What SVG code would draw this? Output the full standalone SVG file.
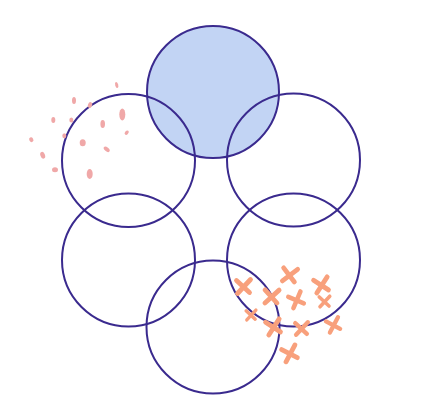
<svg xmlns="http://www.w3.org/2000/svg" xmlns:xlink="http://www.w3.org/1999/xlink" width="427" height="409" viewBox="0 0 427 409">
<style>
.ring{fill:none;stroke:#3a2a8e;stroke-width:2}
.blob{fill:#f0a8a8}
.x{fill:none;stroke:#f8a07c;stroke-width:4.8;stroke-linecap:round}
</style>
<defs>
<path id="cross" d="M-7,-6 L6,6 M-6,7 L7,-7"/>
</defs>
<rect width="427" height="409" fill="#fff"/>
<g id="fill-top"><circle cx="213" cy="92" r="66" fill="#c2d4f4"/></g>
<g id="c-top"><circle class="ring" cx="213" cy="92" r="66"/></g>
<g id="c-left-top"><circle class="ring" cx="128.5" cy="160.5" r="66.5"/></g>
<g id="c-right-top"><circle class="ring" cx="293.5" cy="160" r="66.5"/></g>
<g id="c-left-bottom"><circle class="ring" cx="128.5" cy="260" r="66.5"/></g>
<g id="c-right-bottom"><circle class="ring" cx="293.5" cy="260" r="66.5"/></g>
<g id="c-bottom"><circle class="ring" cx="213" cy="327" r="66.5"/></g>
<g id="blobs">
<ellipse class="blob" cx="116.7" cy="85" rx="1.5" ry="3" transform="rotate(-15 116.7 85)"/>
<ellipse class="blob" cx="74" cy="100.5" rx="2" ry="3.5"/>
<ellipse class="blob" cx="90" cy="105" rx="2" ry="3" transform="rotate(20 90 105)"/>
<ellipse class="blob" cx="122.3" cy="114.5" rx="3" ry="6"/>
<ellipse class="blob" cx="53.3" cy="120" rx="2" ry="3"/>
<ellipse class="blob" cx="71.3" cy="120" rx="2" ry="2.5"/>
<ellipse class="blob" cx="102.7" cy="124" rx="2.3" ry="4"/>
<ellipse class="blob" cx="126.7" cy="132.7" rx="1.7" ry="2.5" transform="rotate(40 126.7 132.7)"/>
<ellipse class="blob" cx="64.3" cy="135.7" rx="2" ry="2.5"/>
<ellipse class="blob" cx="31.3" cy="139.7" rx="2" ry="2.5" transform="rotate(-30 31.3 139.7)"/>
<ellipse class="blob" cx="82.7" cy="142.7" rx="3" ry="3.5"/>
<ellipse class="blob" cx="106.7" cy="149.3" rx="2" ry="3.5" transform="rotate(-50 106.7 149.3)"/>
<ellipse class="blob" cx="42.7" cy="155.3" rx="2.3" ry="3.5" transform="rotate(-20 42.7 155.3)"/>
<ellipse class="blob" cx="55" cy="169.7" rx="3" ry="2.5"/>
<ellipse class="blob" cx="89.7" cy="174" rx="3" ry="5"/>
</g>
<g id="crosses" class="x">
<use xlink:href="#cross" transform="translate(243.5 286.5)"/>
<use xlink:href="#cross" transform="translate(289.5 275) rotate(10)"/>
<use xlink:href="#cross" transform="translate(321.5 285) rotate(-10)"/>
<use xlink:href="#cross" transform="translate(271.5 296.5) rotate(5)"/>
<use xlink:href="#cross" transform="translate(296.5 300) rotate(-20) scale(0.95)"/>
<use xlink:href="#cross" transform="translate(324.5 301.5) scale(0.75)"/>
<use xlink:href="#cross" transform="translate(251 315) scale(0.7)"/>
<use xlink:href="#cross" transform="translate(273.5 327) rotate(-10)"/>
<use xlink:href="#cross" transform="translate(301.5 328.5) scale(0.9)"/>
<use xlink:href="#cross" transform="translate(333.5 325) rotate(-15) scale(0.9)"/>
<use xlink:href="#cross" transform="translate(290 353.5) rotate(-15)"/>
</g>
</svg>
